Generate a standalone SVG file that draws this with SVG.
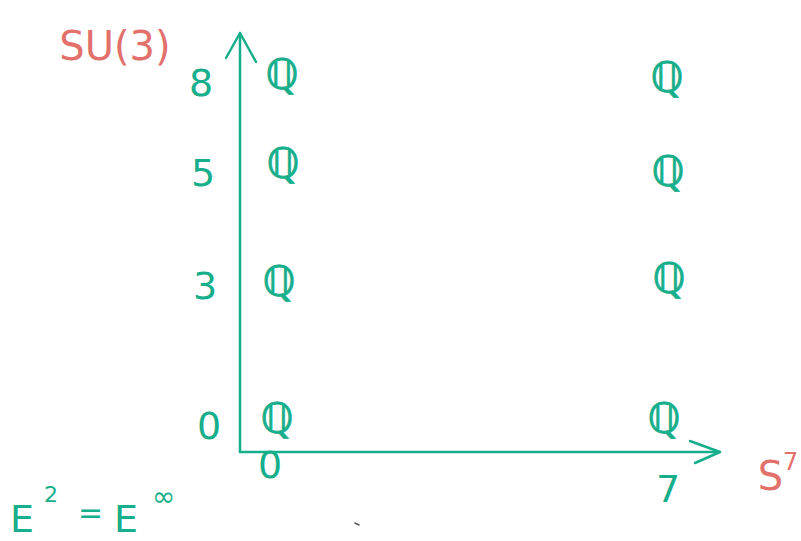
<svg xmlns="http://www.w3.org/2000/svg" width="801" height="541" viewBox="0 0 801 541">
<style>
.g{fill:#17ae8b;font-family:"DejaVu Sans",sans-serif;}
.r{fill:#e2706b;font-family:"DejaVu Sans",sans-serif;}
.q{font-size:42px;text-anchor:middle;stroke:#17ae8b;stroke-width:0.8;}
.n{font-size:38px;text-anchor:middle;}
.ax{stroke:#17ae8b;stroke-width:2.5;fill:none;stroke-linecap:round;stroke-linejoin:round;}
</style>
<rect width="801" height="541" fill="#fff"/>
<g id="connectors">
<path class="ax" d="M240,452 V33"/>
<path class="ax" d="M226,58 L240,33 L256,62"/>
<path class="ax" d="M240,452 H720"/>
<path class="ax" d="M690,441 L720,452 L695,463"/>
</g>
<g id="label-su3"><text class="r" x="115" y="60" font-size="40" text-anchor="middle">SU(3)</text></g>
<g id="label-s7"><text class="r" x="778" y="490" font-size="40" text-anchor="middle">S<tspan font-size="24" dy="-20">7</tspan></text></g>
<g id="y8"><text class="g n" x="201" y="96">8</text></g>
<g id="y5"><text class="g n" x="203" y="186">5</text></g>
<g id="y3"><text class="g n" x="205" y="299">3</text></g>
<g id="y0"><text class="g n" x="209" y="439" font-size="34">0</text></g>
<g id="x0"><text class="g n" x="270" y="478" font-size="34">0</text></g>
<g id="x7"><text class="g n" x="668" y="502">7</text></g>
<g id="q-0-8"><text class="g q" x="282" y="89">ℚ</text></g>
<g id="q-0-5"><text class="g q" x="283" y="178">ℚ</text></g>
<g id="q-0-3"><text class="g q" x="279" y="296">ℚ</text></g>
<g id="q-0-0"><text class="g q" x="277" y="433">ℚ</text></g>
<g id="q-7-8"><text class="g q" x="667" y="92">ℚ</text></g>
<g id="q-7-5"><text class="g q" x="668" y="186">ℚ</text></g>
<g id="q-7-3"><text class="g q" x="669" y="293">ℚ</text></g>
<g id="q-7-0"><text class="g q" x="664" y="433">ℚ</text></g>
<g id="label-e">
<text class="g" x="10" y="532" font-size="38">E</text>
<text class="g" x="44" y="502" font-size="22">2</text>
<text class="g" x="78" y="523" font-size="30">=</text>
<text class="g" x="114" y="532" font-size="38">E</text>
<text class="g" x="152" y="506" font-size="28">∞</text>
</g>
<path d="M355,523 L359,525" stroke="#555" stroke-width="1.5" stroke-linecap="round"/>
</svg>
